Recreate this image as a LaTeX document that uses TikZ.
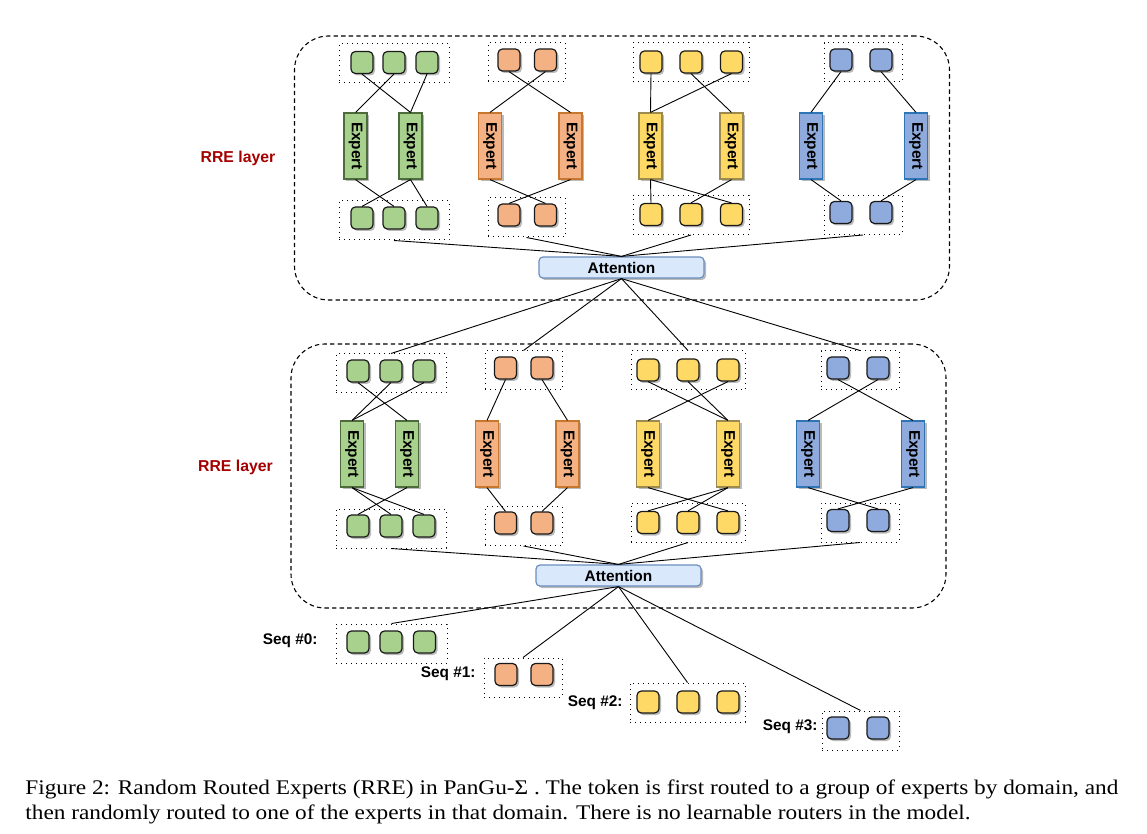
\documentclass[tikz,border=0pt]{standalone}
\usepackage{fontspec}
\setmainfont{Liberation Serif}
\setsansfont{Liberation Sans}
\newfontfamily\capfont[FakeStretch=1.12]{Liberation Serif}
\usepackage{graphicx}
\usetikzlibrary{shadows}

\definecolor{gfill}{HTML}{A9D18E}
\definecolor{gline}{HTML}{4E6B3D}
\definecolor{ofill}{HTML}{F4B183}
\definecolor{oline}{HTML}{C8782E}
\definecolor{yfill}{HTML}{FFD966}
\definecolor{yline}{HTML}{9C8A4E}
\definecolor{bfill}{HTML}{8FAADC}
\definecolor{bline}{HTML}{2E75B6}
\definecolor{attfill}{HTML}{DAE8FC}
\definecolor{attline}{HTML}{6C8EBF}
\definecolor{rrered}{HTML}{A40000}

\tikzset{
  shade/.style={drop shadow={shadow xshift=1pt, shadow yshift=-1pt, fill=black!45, opacity=0.6}},
  tok/.style={draw=black!90, fill=#1, rounded corners=2.2pt, minimum size=11pt, inner sep=0pt, line width=0.6pt, shade},
  expert/.style 2 args={draw=#2, fill=#1, minimum width=11.5pt, minimum height=33pt, inner sep=0pt, line width=0.6pt, shade},
  grp/.style={draw, dotted, line width=0.5pt, minimum height=19.5pt, minimum width=#1, inner sep=0pt},
  layerbox/.style={draw, dash pattern=on 2.2pt off 1.6pt, line width=0.55pt, rounded corners=17pt, minimum width=327.5pt, minimum height=132pt, inner sep=0pt},
  attn/.style={draw=attline, fill=attfill, rounded corners=2pt, line width=0.6pt, minimum width=82.5pt, minimum height=10.5pt, inner sep=0pt, shade},
  lbl/.style={font=\sffamily\bfseries\fontsize{7.7}{9}\selectfont},
  rre/.style={lbl, text=rrered, font=\sffamily\bfseries\fontsize{7.9}{9}\selectfont},
  link/.style={line width=0.45pt},
}
\newcommand{\exptxt}{\rotatebox{-90}{\sffamily\bfseries\fontsize{7.7}{9}\selectfont Expert}}

\begin{document}
\begin{tikzpicture}[x=0.5pt,y=-0.5pt]
  \useasboundingbox (0,0) rectangle (1147,834);

  % upper RRE layer
  \node[layerbox] (layA) at (622,168) {};
  \node[rre] (rreA) at (238,158) {RRE layer};
  \node[grp=55pt] (Agt) at (394,63.5) {};
  \foreach \i/\x in {1/362,2/394,3/427} \node[tok=gfill] (Agt\i) at (\x,62.5) {};
  \node[expert={gfill}{gline}] (AgE1) at (355.5,146) {\exptxt};
  \node[expert={gfill}{gline}] (AgE2) at (410.5,146) {\exptxt};
  \node[grp=55pt] (Agb) at (394,220.5) {};
  \foreach \i/\x in {1/362,2/394,3/427} \node[tok=gfill] (Agb\i) at (\x,218) {};

  \node[grp=38.5pt] (Aot) at (526.5,62.5) {};
  \foreach \i/\x in {1/509,2/545.5} \node[tok=ofill] (Aot\i) at (\x,60) {};
  \node[expert={ofill}{oline}] (AoE1) at (490,146) {\exptxt};
  \node[expert={ofill}{oline}] (AoE2) at (570.5,146) {\exptxt};
  \node[grp=38.5pt] (Aob) at (526.5,217.5) {};
  \foreach \i/\x in {1/509,2/545.5} \node[tok=ofill] (Aob\i) at (\x,215) {};

  \node[grp=58pt] (Ayt) at (691,62.5) {};
  \foreach \i/\x in {1/651,2/691,3/731.5} \node[tok=yfill] (Ayt\i) at (\x,62) {};
  \node[expert={yfill}{yline}] (AyE1) at (650.5,146) {\exptxt};
  \node[expert={yfill}{yline}] (AyE2) at (731.5,146) {\exptxt};
  \node[grp=58pt] (Ayb) at (691,215) {};
  \foreach \i/\x in {1/651,2/691,3/731.5} \node[tok=yfill] (Ayb\i) at (\x,214.5) {};

  \node[grp=39pt] (Abt) at (863,62.5) {};
  \foreach \i/\x in {1/841,2/881} \node[tok=bfill] (Abt\i) at (\x,60) {};
  \node[expert={bfill}{bline}] (AbE1) at (811,146) {\exptxt};
  \node[expert={bfill}{bline}] (AbE2) at (916,146) {\exptxt};
  \node[grp=39pt] (Abb) at (863,215) {};
  \foreach \i/\x in {1/841,2/881} \node[tok=bfill] (Abb\i) at (\x,212.5) {};

  \node[attn, lbl] (attA) at (621.5,267.5) {Attention};

  % lower RRE layer
  \node[layerbox] (layB) at (618.5,476) {};
  \node[rre] (rreB) at (235.5,467) {RRE layer};
  \node[grp=55pt] (Bgt) at (391,373.5) {};
  \foreach \i/\x in {1/358,2/391,3/424} \node[tok=gfill] (Bgt\i) at (\x,371) {};
  \node[expert={gfill}{gline}] (BgE1) at (352,454) {\exptxt};
  \node[expert={gfill}{gline}] (BgE2) at (407,454) {\exptxt};
  \node[grp=55pt] (Bgb) at (391,528.5) {};
  \foreach \i/\x in {1/358,2/391,3/424} \node[tok=gfill] (Bgb\i) at (\x,526) {};

  \node[grp=38.5pt] (Bot) at (523.5,370.5) {};
  \foreach \i/\x in {1/505.5,2/542} \node[tok=ofill] (Bot\i) at (\x,368) {};
  \node[expert={ofill}{oline}] (BoE1) at (487,454) {\exptxt};
  \node[expert={ofill}{oline}] (BoE2) at (567.5,454) {\exptxt};
  \node[grp=38.5pt] (Bob) at (523.5,526) {};
  \foreach \i/\x in {1/505.5,2/542} \node[tok=ofill] (Bob\i) at (\x,523) {};

  \node[grp=57pt] (Byt) at (688,370.5) {};
  \foreach \i/\x in {1/648,2/688,3/728} \node[tok=yfill] (Byt\i) at (\x,370) {};
  \node[expert={yfill}{yline}] (ByE1) at (648,454) {\exptxt};
  \node[expert={yfill}{yline}] (ByE2) at (728,454) {\exptxt};
  \node[grp=57pt] (Byb) at (688,522.5) {};
  \foreach \i/\x in {1/648,2/688,3/728} \node[tok=yfill] (Byb\i) at (\x,522.5) {};

  \node[grp=39pt] (Bbt) at (860,370.5) {};
  \foreach \i/\x in {1/838,2/878} \node[tok=bfill] (Bbt\i) at (\x,368) {};
  \node[expert={bfill}{bline}] (BbE1) at (808,454) {\exptxt};
  \node[expert={bfill}{bline}] (BbE2) at (913,454) {\exptxt};
  \node[grp=39pt] (Bbb) at (860,522.5) {};
  \foreach \i/\x in {1/838,2/878} \node[tok=bfill] (Bbb\i) at (\x,520.5) {};

  \node[attn, lbl] (attB) at (618.5,575.5) {Attention};

  % input sequences
  \node[grp=55.5pt] (s0) at (391.5,643.5) {};
  \foreach \i/\x in {1/358,2/391,3/424.5} \node[tok=gfill] (s0\i) at (\x,642) {};
  \node[lbl, anchor=east, inner sep=0pt] (s0lbl) at (318,641) {Seq \#0:};
  \node[grp=39pt] (s1) at (523,677.5) {};
  \foreach \i/\x in {1/506,2/542} \node[tok=ofill] (s1\i) at (\x,674.5) {};
  \node[lbl, anchor=east, inner sep=0pt] (s1lbl) at (476,674) {Seq \#1:};
  \node[grp=57.5pt] (s2) at (687.5,702.5) {};
  \foreach \i/\x in {1/648,2/688,3/728} \node[tok=yfill] (s2\i) at (\x,702) {};
  \node[lbl, anchor=east, inner sep=0pt] (s2lbl) at (623,703) {Seq \#2:};
  \node[grp=38.5pt] (s3) at (860.5,730.5) {};
  \foreach \i/\x in {1/838,2/878} \node[tok=bfill] (s3\i) at (\x,728) {};
  \node[lbl, anchor=east, inner sep=0pt] (s3lbl) at (818,727) {Seq \#3:};

  \begin{scope}[link]
    % upper layer routing
    \draw (Agt2.south) -- (AgE1.north);
    \draw (Agt1.south) -- (AgE2.north);
    \draw (Agt3.south) -- (AgE2.north);
    \draw (AgE1.south) -- (Agb2.north);
    \draw (AgE2.south) -- (Agb1.north);
    \draw (AgE2.south) -- (Agb3.north);
    \draw (Aot1.south) -- (AoE2.north);
    \draw (Aot2.south) -- (AoE1.north);
    \draw (AoE1.south) -- (Aob2.north);
    \draw (AoE2.south) -- (Aob1.north);
    \draw (Ayt1.south) -- (AyE1.north);
    \draw (Ayt2.south) -- (AyE2.north);
    \draw (Ayt3.south) -- (AyE1.north);
    \draw (AyE1.south) -- (Ayb1.north);
    \draw (AyE1.south) -- (Ayb3.north);
    \draw (AyE2.south) -- (Ayb2.north);
    \draw (Abt1.south) -- (AbE1.north);
    \draw (Abt2.south) -- (AbE2.north);
    \draw (AbE1.south) -- (Abb1.north);
    \draw (AbE2.south) -- (Abb2.north);
    \draw (Agb.south) -- (attA.north);
    \draw (Aob.south) -- (attA.north);
    \draw (Ayb.south) -- (attA.north);
    \draw (Abb.south) -- (attA.north);
    % between the layers
    \draw (attA.south) -- (Bgt.north);
    \draw (attA.south) -- (Bot.north);
    \draw (attA.south) -- (Byt.north);
    \draw (attA.south) -- (Bbt.north);
    % lower layer routing
    \draw (Bgt1.south) -- (BgE2.north);
    \draw (Bgt2.south) -- (BgE1.north);
    \draw (Bgt3.south) -- (BgE1.north);
    \draw (BgE1.south) -- (Bgb2.north);
    \draw (BgE1.south) -- (Bgb3.north);
    \draw (BgE2.south) -- (Bgb1.north);
    \draw (Bot1.south) -- (BoE1.north);
    \draw (Bot2.south) -- (BoE2.north);
    \draw (BoE1.south) -- (Bob1.north);
    \draw (BoE2.south) -- (Bob2.north);
    \draw (Byt1.south) -- (ByE2.north);
    \draw (Byt2.south) -- (ByE2.north);
    \draw (Byt3.south) -- (ByE1.north);
    \draw (ByE1.south) -- (Byb3.north);
    \draw (ByE2.south) -- (Byb1.north);
    \draw (ByE2.south) -- (Byb2.north);
    \draw (Bbt1.south) -- (BbE2.north);
    \draw (Bbt2.south) -- (BbE1.north);
    \draw (BbE1.south) -- (Bbb2.north);
    \draw (BbE2.south) -- (Bbb1.north);
    \draw (Bgb.south) -- (attB.north);
    \draw (Bob.south) -- (attB.north);
    \draw (Byb.south) -- (attB.north);
    \draw (Bbb.south) -- (attB.north);
    % inputs
    \draw (attB.south) -- (s0.north);
    \draw (attB.south) -- (s1.north);
    \draw (attB.south) -- (s2.north);
    \draw (attB.south) -- (s3.north);
  \end{scope}

  \node[anchor=north west, inner sep=0pt, text width=546.5pt, align=justify,
        font=\capfont\fontsize{10.4}{12.5}\selectfont] (caption) at (25,779)
    {Figure 2: Random Routed Experts (RRE) in PanGu-Σ . The token is first routed to a group of experts by domain, and then randomly routed to one of the experts in that domain. There is no learnable routers in the model.};
\end{tikzpicture}
\end{document}
